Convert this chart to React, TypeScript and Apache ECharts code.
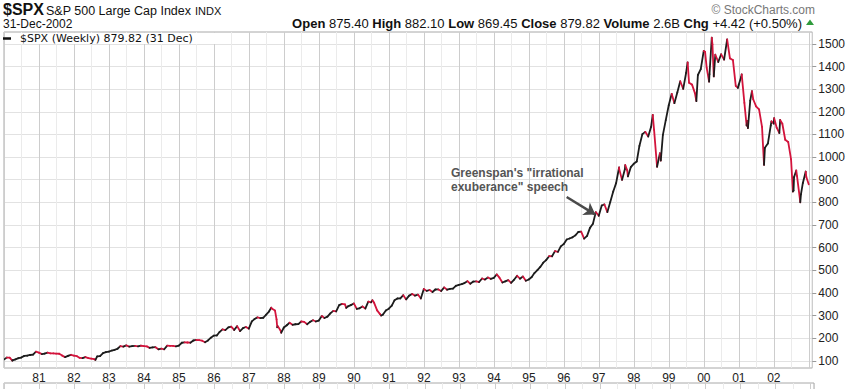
import React, { useEffect, useRef } from "react";
import * as echarts from "echarts";

// S&P 500 month-end closes, Jan 1980 .. Dec 2002
const monthlyCloses: number[] = [
  // 1980
  114.16, 113.66, 102.09, 106.29, 111.24, 114.24, 121.67, 122.38, 125.46, 127.47, 140.52, 135.76,
  // 1981
  129.55, 131.27, 136.0, 132.81, 132.59, 131.21, 130.92, 122.79, 116.18, 121.89, 126.35, 122.55,
  // 1982
  120.4, 113.11, 111.96, 116.44, 111.88, 109.61, 107.09, 119.51, 120.42, 133.71, 138.54, 140.64,
  // 1983
  145.3, 148.06, 152.96, 164.42, 162.39, 168.11, 162.56, 164.4, 166.07, 163.55, 166.4, 164.93,
  // 1984
  163.41, 157.06, 159.18, 160.05, 150.55, 153.18, 150.66, 166.68, 166.1, 166.09, 163.58, 167.24,
  // 1985
  179.63, 181.18, 180.66, 179.83, 189.55, 191.85, 190.92, 188.63, 182.08, 189.82, 202.17, 211.28,
  // 1986
  211.78, 226.92, 238.9, 235.52, 247.35, 250.84, 236.12, 252.93, 231.32, 243.98, 249.22, 242.17,
  // 1987
  274.08, 284.2, 291.7, 288.36, 290.1, 304.0, 318.66, 329.8, 321.83, 251.79, 230.3, 247.08,
  // 1988
  257.07, 267.82, 258.89, 261.33, 262.16, 273.5, 272.02, 261.52, 271.91, 278.97, 273.7, 277.72,
  // 1989
  297.47, 288.86, 294.87, 309.64, 320.52, 317.98, 346.08, 351.45, 349.15, 340.36, 345.99, 353.4,
  // 1990
  329.08, 331.89, 339.94, 330.8, 361.23, 358.02, 356.15, 322.56, 306.05, 304.0, 322.22, 330.22,
  // 1991
  343.93, 367.07, 375.22, 375.35, 389.83, 371.16, 387.81, 395.43, 387.86, 392.46, 375.22, 417.09,
  // 1992
  408.79, 412.7, 403.69, 414.95, 415.35, 408.14, 424.21, 414.03, 417.8, 418.68, 431.35, 435.71,
  // 1993
  438.78, 443.38, 451.67, 440.19, 450.19, 450.53, 448.13, 463.56, 458.93, 467.83, 461.79, 466.45,
  // 1994
  481.61, 467.14, 445.77, 450.91, 456.5, 444.27, 458.26, 475.49, 462.69, 472.35, 453.69, 459.27,
  // 1995
  470.42, 487.39, 500.71, 514.71, 533.4, 544.75, 562.06, 561.88, 584.41, 581.5, 605.37, 615.93,
  // 1996
  636.02, 640.43, 645.5, 654.17, 669.12, 670.63, 639.95, 651.99, 687.31, 705.27, 757.02, 740.74,
  // 1997
  786.16, 790.82, 757.12, 801.34, 848.28, 885.14, 954.29, 899.47, 947.28, 914.62, 955.4, 970.43,
  // 1998
  980.28, 1049.34, 1101.75, 1111.75, 1090.82, 1133.84, 1120.67, 957.28, 1017.01, 1098.67, 1163.63, 1229.23,
  // 1999
  1279.64, 1238.33, 1286.37, 1335.18, 1301.84, 1372.71, 1328.72, 1320.41, 1282.71, 1362.93, 1388.91, 1469.25,
  // 2000
  1394.46, 1366.42, 1498.58, 1452.43, 1420.6, 1454.6, 1430.83, 1517.68, 1436.51, 1429.4, 1314.95, 1320.28,
  // 2001
  1366.01, 1239.94, 1160.33, 1249.46, 1255.82, 1224.42, 1211.23, 1133.58, 1040.94, 1059.78, 1139.45, 1148.08,
  // 2002
  1130.2, 1106.73, 1147.39, 1076.92, 1067.14, 989.82, 911.62, 916.07, 815.28, 885.76, 936.31, 879.82,
];

// Notable weekly closes (extremes) between month ends
const weeklyDates: string[] = [
  "1980-01-04", "1980-03-28", "1982-08-13", "1987-08-21", "1987-10-16", "1987-10-23",
  "1987-12-04", "1989-10-13", "1990-07-13", "1990-10-12", "1997-08-01", "1997-10-03",
  "1997-10-24", "1998-07-17", "1998-10-09", "1999-07-16", "1999-10-15", "2000-01-14",
  "2000-02-25", "2000-03-24", "2000-04-14", "2000-09-01", "2000-12-22", "2001-01-26",
  "2001-03-23", "2001-04-06", "2001-05-18", "2001-09-21", "2001-12-07", "2002-01-04",
  "2002-03-08", "2002-07-19", "2002-07-26", "2002-08-23", "2002-10-04", "2002-10-11",
  "2002-12-06",
];
const weeklyCloses: number[] = [
  106.5, 100.7, 103.9, 334.8, 282.7, 248.2,
  223.9, 333.7, 367.3, 300.0, 947.1, 965.0,
  941.6, 1186.8, 984.4, 1418.8, 1247.4, 1465.2,
  1333.4, 1527.5, 1356.6, 1520.8, 1305.9, 1354.9,
  1139.8, 1128.4, 1292.0, 965.8, 1158.3, 1172.5,
  1164.3, 847.8, 852.8, 940.9, 800.6, 835.3,
  912.2,
];

const priceTicks: number[] = [100, 200, 300, 400, 500, 600, 700, 800, 900, 1000, 1100, 1200, 1300, 1400, 1500];
const firstYearLabel = 1981;
const lastYearLabel = 2002;

// Annotation arrow (data coordinates: decimal year, price)
const arrowFrom: number[] = [1996.08, 824];
const arrowTo: number[] = [1996.9, 746];

function fracYear(y: number, m: number, d: number): number {
  const t = Date.UTC(y, m, d);
  const s = Date.UTC(y, 0, 1);
  const e = Date.UTC(y + 1, 0, 1);
  return y + (t - s) / (e - s);
}

function buildPoints(): number[][] {
  const pts: number[][] = [];
  monthlyCloses.forEach((v, i) => {
    const y = 1980 + Math.floor(i / 12);
    const m = i % 12;
    const last = new Date(Date.UTC(y, m + 1, 0)).getUTCDate();
    pts.push([fracYear(y, m, last), v]);
  });
  weeklyDates.forEach((ds, i) => {
    const [y, m, d] = ds.split("-").map(Number);
    pts.push([fracYear(y, m - 1, d), weeklyCloses[i]]);
  });
  pts.sort((a, b) => a[0] - b[0]);
  return pts;
}

const FONT = "'Liberation Sans', Arial, sans-serif";

export default function App() {
  const ref = useRef<HTMLDivElement>(null);

  useEffect(() => {
    if (!ref.current) return;
    const chart = echarts.init(ref.current, undefined, { renderer: "svg" });
    const pts = buildPoints();
    const segs: number[][] = [];
    for (let i = 1; i < pts.length; i++) {
      segs.push([pts[i][0], pts[i][1], pts[i - 1][0], pts[i - 1][1]]);
    }

    const xMin = 1980;
    const xMax = 2003.1;

    const option: any = {
      animation: false,
      backgroundColor: "#ffffff",
      grid: [
        { left: 4, right: 34, top: 32, height: 336, show: true, borderColor: "#a8a8a8", borderWidth: 1, backgroundColor: "transparent" },
        { left: 4, right: 34, top: 383, height: 40, show: true, borderColor: "#a8a8a8", borderWidth: 1, backgroundColor: "transparent" },
      ],
      xAxis: [
        {
          type: "value",
          gridIndex: 0,
          min: xMin,
          max: xMax,
          interval: 1,
          axisLine: { show: false },
          axisTick: { show: false },
          axisLabel: {
            margin: 4,
            fontSize: 12,
            color: "#222",
            fontFamily: FONT,
            formatter: (v: number) =>
              Number.isInteger(v) && v >= firstYearLabel && v <= lastYearLabel
                ? String(v % 100).padStart(2, "0")
                : "",
          },
          splitLine: { show: true, lineStyle: { color: "#cdcdcd", width: 1 } },
          minorTick: { show: false, splitNumber: 2 },
          minorSplitLine: { show: true, lineStyle: { color: "#ebebeb", width: 1 } },
        },
        {
          type: "value",
          gridIndex: 1,
          min: xMin,
          max: xMax,
          interval: 1,
          axisLine: { show: false },
          axisTick: { show: false },
          axisLabel: { show: false },
          splitLine: { show: true, lineStyle: { color: "#cdcdcd", width: 1 } },
          minorTick: { show: false, splitNumber: 2 },
          minorSplitLine: { show: true, lineStyle: { color: "#ebebeb", width: 1 } },
        },
      ],
      yAxis: [
        {
          type: "value",
          gridIndex: 0,
          position: "right",
          min: 68,
          max: 1553,
          splitNumber: 15,
          axisLine: { show: false },
          axisTick: { show: true, length: 4, lineStyle: { color: "#999" }, customValues: priceTicks },
          axisLabel: {
            margin: 6,
            fontSize: 12,
            color: "#222",
            fontFamily: FONT,
            customValues: priceTicks,
            formatter: (v: number) => String(v),
          },
          splitLine: { show: true, lineStyle: { color: "#e2e2e2", width: 1 } },
        },
        {
          type: "value",
          gridIndex: 1,
          position: "right",
          min: 0,
          max: 1,
          axisLine: { show: false },
          axisTick: { show: false },
          axisLabel: { show: false },
          splitLine: { show: false },
        },
      ],
      series: [
        {
          type: "custom",
          xAxisIndex: 0,
          yAxisIndex: 0,
          data: segs,
          encode: { x: [0, 2], y: [1, 3] },
          clip: true,
          silent: true,
          z: 3,
          renderItem: (_params: any, api: any) => {
            const a = api.coord([api.value(2), api.value(3)]);
            const b = api.coord([api.value(0), api.value(1)]);
            const up = api.value(1) >= api.value(3);
            return {
              type: "line",
              shape: { x1: a[0], y1: a[1], x2: b[0], y2: b[1] },
              style: { stroke: up ? "#1c1c1c" : "#d3143c", lineWidth: 1.8, lineCap: "round" },
            };
          },
        },
        {
          type: "lines",
          coordinateSystem: "cartesian2d",
          xAxisIndex: 0,
          yAxisIndex: 0,
          symbol: ["none", "arrow"],
          symbolSize: 11,
          silent: true,
          z: 5,
          lineStyle: { color: "#4a4a4a", width: 2.5, opacity: 1, curveness: 0 },
          data: [{ coords: [arrowFrom, arrowTo] }],
        },
      ],
      graphic: [
        { type: "text", x: 3, y: 9.5, style: { text: "$SPX", fontSize: 16, fontWeight: "bold", fontFamily: FONT, fill: "#111", verticalAlign: "middle" } },
        { type: "text", x: 46, y: 10.5, style: { text: "S&P 500 Large Cap Index", fontSize: 12.5, fontFamily: FONT, fill: "#111", verticalAlign: "middle" } },
        { type: "text", x: 195, y: 11, style: { text: "INDX", fontSize: 11, fontFamily: FONT, fill: "#111", verticalAlign: "middle" } },
        { type: "text", x: 3, y: 23.5, style: { text: "31-Dec-2002", fontSize: 12, fontFamily: FONT, fill: "#111", verticalAlign: "middle" } },
        {
          type: "text",
          x: 802,
          y: 23.5,
          style: {
            text: "{b|Open} 875.40 {b|High} 882.10 {b|Low} 869.45 {b|Close} 879.82 {b|Volume} 2.6B {b|Chg} +4.42 (+0.50%)",
            fontSize: 13,
            fontFamily: FONT,
            fill: "#111",
            align: "right",
            verticalAlign: "middle",
            rich: { b: { fontSize: 13, fontWeight: "bold", fontFamily: FONT, fill: "#111" } },
          },
        },
        { type: "polygon", shape: { points: [[806, 25], [814, 25], [810, 19.5]] }, style: { fill: "#2e9b3c" } },
        { type: "text", x: 815, y: 10, style: { text: "© StockCharts.com", fontSize: 12, fontFamily: FONT, fill: "#777", align: "right", verticalAlign: "middle" } },
        { type: "rect", shape: { x: 5, y: 33, width: 213, height: 11 }, style: { fill: "#ffffff" }, z: 10 },
        { type: "line", shape: { x1: 3, y1: 38.5, x2: 11, y2: 38.5 }, style: { stroke: "#111", lineWidth: 2.5 }, z: 11 },
        { type: "text", x: 20, y: 38.5, z: 11, style: { text: "$SPX (Weekly) 879.82 (31 Dec)", fontSize: 11, fontFamily: "'DejaVu Sans', Verdana, sans-serif", fill: "#111", verticalAlign: "middle" } },
        {
          type: "text",
          x: 451,
          y: 166,
          z: 11,
          style: {
            text: "Greenspan's \"irrational\nexuberance\" speech",
            fontSize: 12,
            fontWeight: "bold",
            fontFamily: FONT,
            fill: "#555",
            lineHeight: 14,
            verticalAlign: "top",
          },
        },
      ],
    };

    chart.setOption(option);
    return () => chart.dispose();
  }, []);

  return (
    <div
      ref={ref}
      style={{ position: "fixed", left: 0, top: 0, width: 848, height: 389, background: "#fff" }}
    />
  );
}
